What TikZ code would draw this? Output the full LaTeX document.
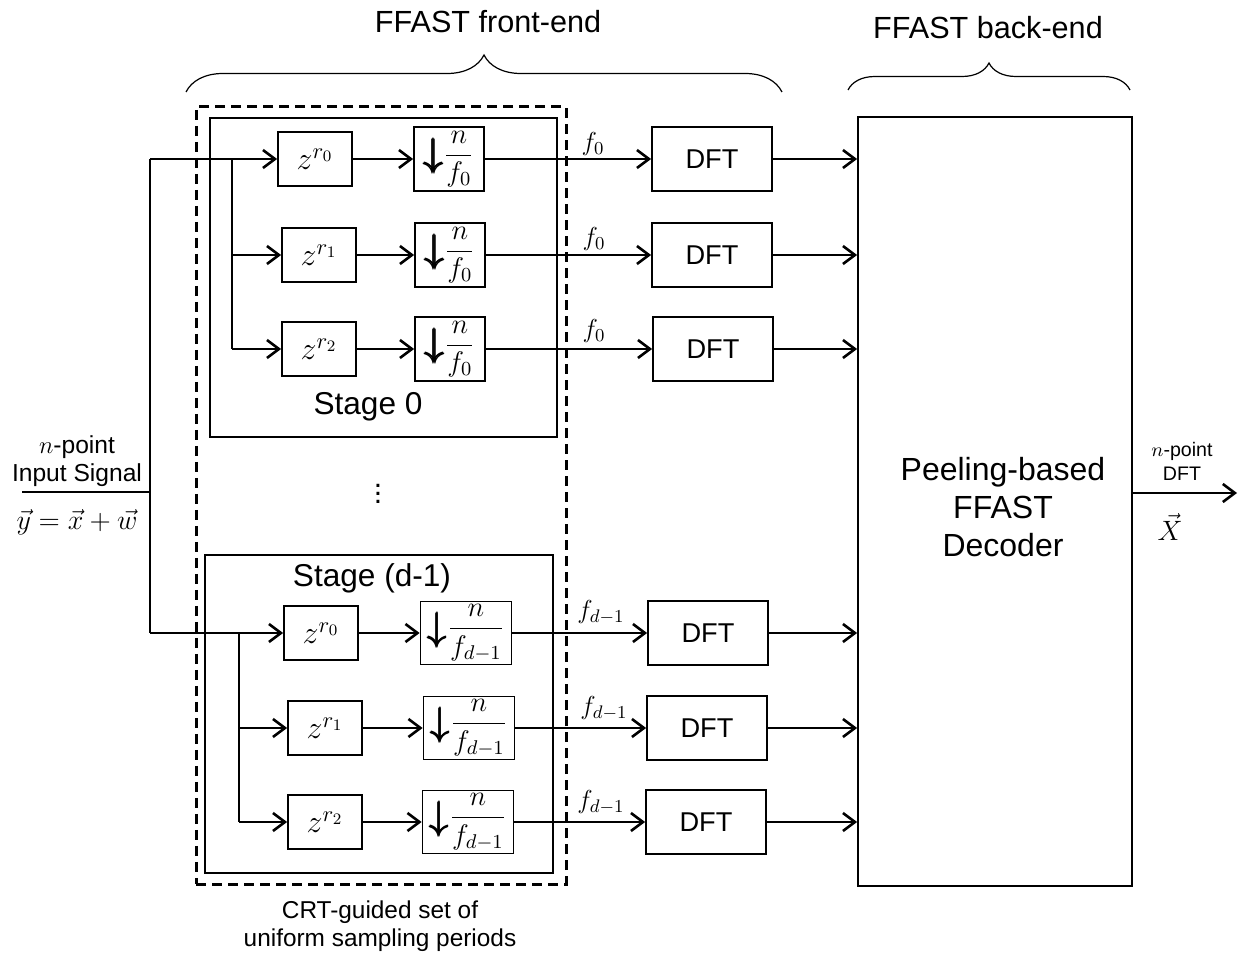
\RequirePackage{fix-cm}
\documentclass[tikz,border=0pt]{standalone}
\usepackage{amsmath}
\usepackage[no-math]{fontspec}
\setmainfont{Liberation Sans}
\usetikzlibrary{arrows.meta,decorations.pathreplacing}
\newcommand{\dsarrow}{\raisebox{-0.15em}{\scalebox{1.4}{$\pmb{\downarrow}$}}}
\begin{document}
\begin{tikzpicture}[x=0.5pt,y=-0.5pt,
  box/.style={draw,line width=0.85pt,inner sep=0pt},
  zbox/.style={box,minimum width=37pt,minimum height=27pt,font=\fontsize{16}{18}\selectfont},
  dsbox/.style={box,minimum width=35pt,minimum height=32pt,font=\fontsize{14.2}{16}\selectfont},
  dsboxb/.style={box,minimum width=45.5pt,minimum height=31.5pt,font=\fontsize{14.2}{16}\selectfont},
  dftbox/.style={box,minimum width=60pt,minimum height=32pt,font=\fontsize{13.6}{16}\selectfont},
  conn/.style={line width=1.3pt},
  arr/.style={conn,-{Straight Barb[length=6pt,width=9pt]}},
  flab/.style={font=\fontsize{13}{15}\selectfont,inner sep=0pt},
  stagelab/.style={font=\fontsize{15.8}{18}\selectfont},
  title/.style={font=\fontsize{15.3}{18}\selectfont},
  brc/.style={decorate,line width=0.6pt},
]
\useasboundingbox (0,0) rectangle (1239,957);

% titles and braces
\node[title] (t1) at (488,22) {FFAST front-end};
\node[title] (t2) at (988,28) {FFAST back-end};
\draw[brc,decoration={brace,amplitude=18.5pt}] (186,92) -- (782,92);
\draw[brc,decoration={brace,amplitude=13.5pt}] (848,90) -- (1130,90);

% containers
\node[draw,line width=1.5pt,dash pattern=on 5pt off 3pt,minimum width=185pt,minimum height=388.5pt,inner sep=0pt] (crt) at (381,495.5) {};
\node[box,minimum width=173.5pt,minimum height=159.5pt] (st0) at (383.5,277.5) {};
\node[stagelab] (st0l) at (368,407) {Stage 0};
\node[box,minimum width=174pt,minimum height=159pt] (st1) at (379,714) {};
\node[stagelab] (st1l) at (372,578) {Stage (d-1)};
\node[box,minimum width=137pt,minimum height=384.5pt] (dec) at (995,501.5) {};
\node[align=center,font=\fontsize{16}{19}\selectfont] (decl) at (1003,507) {Peeling-based\\FFAST\\Decoder};
\node[font=\fontsize{15}{17}\selectfont,inner sep=0pt] (dots) at (378,488) {$\vdots$};

% stage 0 blocks
\node[zbox] (z00) at (315,159) {$z^{r_0}$};
\node[zbox] (z01) at (319,255) {$z^{r_1}$};
\node[zbox] (z02) at (319,349) {$z^{r_2}$};
\node[dsbox] (d00) at (449,159) {\dsarrow$\dfrac{n}{f_0}$};
\node[dsbox] (d01) at (450,255) {\dsarrow$\dfrac{n}{f_0}$};
\node[dsbox] (d02) at (450,349) {\dsarrow$\dfrac{n}{f_0}$};
\node[dftbox] (f00) at (712,159) {DFT};
\node[dftbox] (f01) at (712,255) {DFT};
\node[dftbox] (f02) at (713,349) {DFT};

% stage d-1 blocks
\node[zbox] (z10) at (321,633) {$z^{r_0}$};
\node[zbox] (z11) at (325,728) {$z^{r_1}$};
\node[zbox] (z12) at (325,822) {$z^{r_2}$};
\node[dsboxb] (d10) at (466,633) {\dsarrow$\dfrac{n}{f_{d-1}}$};
\node[dsboxb] (d11) at (469,728) {\dsarrow$\dfrac{n}{f_{d-1}}$};
\node[dsboxb] (d12) at (468,822) {\dsarrow$\dfrac{n}{f_{d-1}}$};
\node[dftbox] (f10) at (708,633) {DFT};
\node[dftbox] (f11) at (707,728) {DFT};
\node[dftbox] (f12) at (706,822) {DFT};

% input
\coordinate (in) at (22,492);
\coordinate (ja) at (150,492);
\coordinate (jt) at (150,159);
\coordinate (jb) at (150,633);
\draw[conn] (in) -- (ja);
\draw[conn] (jt) -- (jb);
\draw[arr] (jt) -- (z00.west);
\draw[arr] (jb) -- (z10.west);
\node[align=center,font=\fontsize{12.3}{14}\selectfont] (inl) at (77,461) {$n$-point\\Input Signal};
\node[font=\fontsize{14}{16}\selectfont,inner sep=0pt] (ineq) at (77,522) {$\vec y=\vec x+\vec w$};

% branches stage 0
\coordinate (bt) at (232,159);
\coordinate (bt1) at (232,255);
\coordinate (bt2) at (232,349);
\draw[conn] (bt) -- (bt2);
\draw[arr] (bt1) -- (z01.west);
\draw[arr] (bt2) -- (z02.west);
% branches stage d-1
\coordinate (bb) at (239,633);
\coordinate (bb1) at (239,728);
\coordinate (bb2) at (239,822);
\draw[conn] (bb) -- (bb2);
\draw[arr] (bb1) -- (z11.west);
\draw[arr] (bb2) -- (z12.west);

% chains
\foreach \i in {00,01,02,10,11,12}{
  \draw[arr] (z\i.east) -- (d\i.west);
  \draw[arr] (d\i.east) -- (f\i.west);
  \draw[arr] (f\i.east) -- (f\i.east -| dec.west);
}

% labels
\node[flab] (l00) at (593,144) {$f_0$};
\node[flab] (l01) at (594,239) {$f_0$};
\node[flab] (l02) at (594,331) {$f_0$};
\node[flab] (l10) at (601,612) {$f_{d-1}$};
\node[flab] (l11) at (604,708) {$f_{d-1}$};
\node[flab] (l12) at (601,802) {$f_{d-1}$};

% output
\coordinate (out) at (1237,493);
\draw[arr] (dec.east |- out) -- (out);
\node[align=center,font=\fontsize{9.8}{12}\selectfont] (outl) at (1182,461) {$n$-point\\DFT};
\node[font=\fontsize{14}{16}\selectfont,inner sep=0pt] (outx) at (1170,527) {$\vec X$};

% bottom caption
\node[align=center,font=\fontsize{12.2}{14}\selectfont] (cap) at (380,926) {CRT-guided set of\\uniform sampling periods};
\end{tikzpicture}
\end{document}
